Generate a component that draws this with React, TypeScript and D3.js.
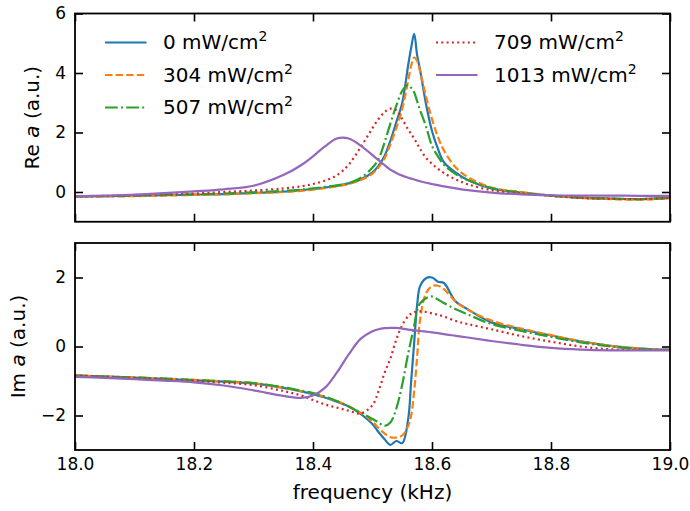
import React, { useEffect, useRef } from "react";
import * as d3 from "d3";

// shared frequency grid (kHz), denser around the resonance
const freq = [18.0, 18.05, 18.1, 18.15, 18.2, 18.25, 18.3, 18.35, 18.38, 18.4,
  18.42, 18.44, 18.46, 18.48, 18.5, 18.51, 18.52, 18.53, 18.54, 18.55,
  18.56, 18.565, 18.57, 18.575, 18.58, 18.59, 18.6, 18.61, 18.62, 18.64,
  18.66, 18.7, 18.75, 18.8, 18.85, 18.9, 18.95, 19.0];

// Re a
const re0 = [-0.15, -0.14, -0.13, -0.11, -0.09, -0.07, -0.03, 0.01, 0.06, 0.1,
  0.15, 0.21, 0.29, 0.42, 0.66, 0.88, 1.2, 1.72, 2.35, 3.0,
  4.27, 4.85, 5.32, 4.6, 4.1, 2.95, 2.05, 1.45, 1.0, 0.65,
  0.4, 0.12, -0.02, -0.12, -0.19, -0.22, -0.24, -0.2];
const re304 = [-0.16, -0.15, -0.14, -0.12, -0.1, -0.08, -0.04, 0.0, 0.04, 0.08,
  0.13, 0.19, 0.27, 0.4, 0.62, 0.82, 1.12, 1.6, 2.15, 2.8,
  3.75, 4.25, 4.52, 4.4, 4.05, 3.2, 2.45, 1.85, 1.4, 0.82,
  0.5, 0.15, 0.0, -0.12, -0.2, -0.24, -0.26, -0.21];
const re507 = [-0.15, -0.14, -0.12, -0.1, -0.08, -0.05, -0.01, 0.04, 0.08, 0.12,
  0.17, 0.22, 0.3, 0.47, 0.82, 1.1, 1.65, 2.3, 2.9, 3.4,
  3.6, 3.5, 3.35, 3.05, 2.75, 2.2, 1.55, 1.2, 0.92, 0.6,
  0.4, 0.13, -0.02, -0.12, -0.19, -0.22, -0.24, -0.2];
const re709 = [-0.15, -0.13, -0.11, -0.08, -0.05, 0.0, 0.05, 0.12, 0.19, 0.27,
  0.38, 0.56, 0.92, 1.5, 2.15, 2.45, 2.68, 2.8, 2.75, 2.45,
  2.1, 1.95, 1.8, 1.62, 1.45, 1.15, 0.95, 0.78, 0.64, 0.42,
  0.26, 0.06, -0.05, -0.13, -0.2, -0.23, -0.24, -0.2];
const re1013 = [-0.15, -0.12, -0.09, -0.04, 0.02, 0.09, 0.21, 0.57, 0.9, 1.2,
  1.53, 1.8, 1.8, 1.56, 1.24, 1.07, 0.91, 0.75, 0.64, 0.55,
  0.48, 0.45, 0.42, 0.39, 0.36, 0.31, 0.27, 0.23, 0.19, 0.12,
  0.06, -0.02, -0.08, -0.11, -0.12, -0.12, -0.13, -0.13];

// Im a
const im0 = [-0.84, -0.87, -0.9, -0.94, -0.98, -1.02, -1.07, -1.2, -1.3, -1.38,
  -1.48, -1.6, -1.74, -1.95, -2.25, -2.48, -2.68, -2.85, -2.74, -2.8,
  -2.1, -1.0, 0.1, 1.2, 1.75, 1.98, 2.0, 1.88, 1.84, 1.3,
  1.08, 0.7, 0.5, 0.32, 0.15, 0.02, -0.06, -0.1];
const im304 = [-0.84, -0.87, -0.9, -0.93, -0.97, -1.01, -1.06, -1.19, -1.29, -1.36,
  -1.46, -1.58, -1.73, -1.92, -2.18, -2.36, -2.52, -2.63, -2.64, -2.58,
  -2.3, -2.0, -1.3, -0.3, 0.78, 1.55, 1.75, 1.76, 1.66, 1.3,
  1.07, 0.75, 0.52, 0.33, 0.15, 0.02, -0.06, -0.1];
const im507 = [-0.84, -0.87, -0.9, -0.93, -0.97, -1.01, -1.06, -1.18, -1.28, -1.35,
  -1.45, -1.58, -1.74, -1.92, -2.1, -2.2, -2.3, -2.2, -1.8, -1.1,
  -0.2, 0.2, 0.6, 1.05, 1.25, 1.4, 1.45, 1.36, 1.26, 1.08,
  0.93, 0.65, 0.45, 0.28, 0.12, 0.0, -0.07, -0.1];
const im709 = [-0.84, -0.88, -0.92, -0.96, -1.0, -1.05, -1.12, -1.29, -1.42, -1.55,
  -1.68, -1.77, -1.86, -1.94, -1.7, -1.3, -0.78, -0.35, 0.2, 0.62,
  0.88, 0.95, 0.99, 1.01, 1.02, 1.0, 0.96, 0.92, 0.87, 0.74,
  0.65, 0.5, 0.3, 0.14, 0.0, -0.08, -0.1, -0.1];
const im1013 = [-0.88, -0.91, -0.95, -0.99, -1.04, -1.13, -1.27, -1.43, -1.49, -1.42,
  -1.2, -0.76, -0.23, 0.22, 0.44, 0.5, 0.53, 0.54, 0.54, 0.52,
  0.49, 0.48, 0.47, 0.46, 0.45, 0.43, 0.41, 0.39, 0.36, 0.31,
  0.26, 0.16, 0.05, -0.04, -0.09, -0.11, -0.11, -0.11];

const powers = ["0", "304", "507", "709", "1013"];
const xTicks = [18.0, 18.2, 18.4, 18.6, 18.8, 19.0];
const reTicks = [0, 2, 4, 6];
const imTicks = [-2, 0, 2];

const colors = ["#1f77b4", "#ff7f0e", "#2ca02c", "#d62728", "#9467bd"];
const dashes = [null, "7.4,3.2", "12.8,3.2,2,3.2", "2,3.3", null];

const FONT = "DejaVu Sans";

export default function App() {
  const ref = useRef<SVGSVGElement>(null);

  useEffect(() => {
    const svg = d3.select(ref.current);
    svg.selectAll("*").remove();

    const left = 75, right = 670;
    const x = d3.scaleLinear().domain([18, 19]).range([left, right]);

    const panels = [
      { id: "re", top: 13.5, bottom: 221.75, domain: [-1, 6], ticks: reTicks,
        data: [re0, re304, re507, re709, re1013], label: "Re", labelX: 38.5, showX: false },
      { id: "im", top: 243, bottom: 450, domain: [-3, 3], ticks: imTicks,
        data: [im0, im304, im507, im709, im1013], label: "Im", labelX: 24.5, showX: true },
    ];

    panels.forEach(p => {
      const y = d3.scaleLinear().domain(p.domain).range([p.bottom, p.top]);
      const g = svg.append("g");

      g.append("clipPath").attr("id", "clip-" + p.id)
        .append("rect")
        .attr("x", left).attr("y", p.top)
        .attr("width", right - left).attr("height", p.bottom - p.top);

      const line = d3.line<number>()
        .x((d, i) => x(freq[i]))
        .y(d => y(d))
        .curve(d3.curveCatmullRom.alpha(0.5));

      p.data.forEach((vals, k) => {
        g.append("path")
          .attr("d", line(vals))
          .attr("fill", "none")
          .attr("stroke", colors[k])
          .attr("stroke-width", 2.2)
          .attr("stroke-dasharray", dashes[k])
          .attr("clip-path", `url(#clip-${p.id})`);
      });

      // axes, ticks pointing in
      const bottomAxis = d3.axisBottom(x).tickValues(xTicks).tickSizeInner(-8).tickSizeOuter(0)
        .tickPadding(8).tickFormat(p.showX ? d3.format(".1f") : () => "");
      const topAxis = d3.axisTop(x).tickValues(xTicks).tickSizeInner(-8).tickSizeOuter(0)
        .tickFormat(() => "");
      const leftAxis = d3.axisLeft(y).tickValues(p.ticks).tickSizeInner(-8).tickSizeOuter(0)
        .tickPadding(9).tickFormat(d3.format("d"));
      const rightAxis = d3.axisRight(y).tickValues(p.ticks).tickSizeInner(-8).tickSizeOuter(0)
        .tickFormat(() => "");

      const axes = [
        g.append("g").attr("transform", `translate(0,${p.bottom})`).call(bottomAxis),
        g.append("g").attr("transform", `translate(0,${p.top})`).call(topAxis),
        g.append("g").attr("transform", `translate(${left},0)`).call(leftAxis),
        g.append("g").attr("transform", `translate(${right},0)`).call(rightAxis),
      ];
      axes.forEach(a => {
        a.attr("font-family", FONT).attr("font-size", 17);
        a.select(".domain").remove();
        a.selectAll(".tick line").attr("stroke", "#000").attr("stroke-width", 1.6);
        a.selectAll(".tick text").attr("fill", "#000");
      });

      g.append("rect")
        .attr("x", left).attr("y", p.top)
        .attr("width", right - left).attr("height", p.bottom - p.top)
        .attr("fill", "none").attr("stroke", "#000").attr("stroke-width", 1.8);

      const cy = (p.top + p.bottom) / 2;
      const lbl = g.append("text")
        .attr("transform", `translate(${p.labelX},${cy}) rotate(-90)`)
        .attr("text-anchor", "middle")
        .attr("font-family", FONT).attr("font-size", 20);
      lbl.append("tspan").text(p.label + " ");
      lbl.append("tspan").attr("font-style", "italic").text("a");
      lbl.append("tspan").text(" (a.u.)");
    });

    svg.append("text")
      .attr("x", (left + right) / 2).attr("y", 499)
      .attr("text-anchor", "middle")
      .attr("font-family", FONT).attr("font-size", 20)
      .text("frequency (kHz)");

    // legend, two columns
    const legendPos = [
      [105, 42.5], [105, 75], [105, 107.5], [436, 42.5], [436, 75],
    ];
    const leg = svg.append("g");
    powers.forEach((pw, k) => {
      const [lx, ly] = legendPos[k];
      leg.append("line")
        .attr("x1", lx).attr("x2", lx + 41.5)
        .attr("y1", ly).attr("y2", ly)
        .attr("stroke", colors[k]).attr("stroke-width", 2.2)
        .attr("stroke-dasharray", dashes[k]);
      const t = leg.append("text")
        .attr("x", lx + 58).attr("y", ly + 6.5)
        .attr("font-family", FONT).attr("font-size", 20);
      t.append("tspan").text(`${pw} mW/cm`);
      t.append("tspan").attr("font-size", 14).attr("dy", -8).text("2");
    });
  }, []);

  return (
    <svg ref={ref} width={690} height={511}
      style={{ position: "absolute", left: 0, top: 0, background: "#fff" }} />
  );
}
